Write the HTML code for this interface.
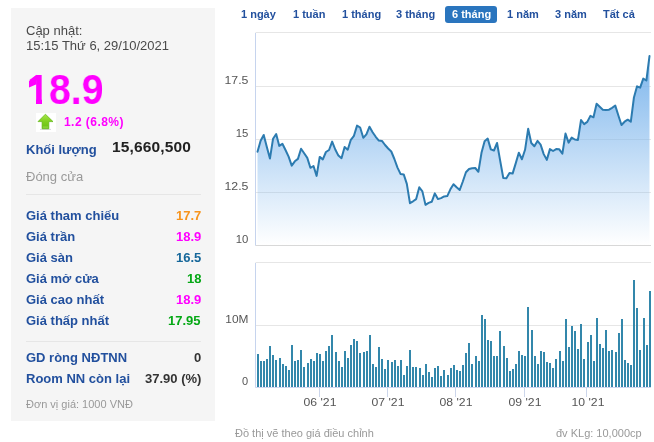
<!DOCTYPE html>
<html><head><meta charset="utf-8"><style>
html,body{margin:0;padding:0;background:#fff;width:654px;height:442px;overflow:hidden;position:relative}
body{font-family:"Liberation Sans",sans-serif}
.panel{position:absolute;left:11px;top:8px;width:204px;height:413px;background:#f5f5f5}
.sep{position:absolute;left:26px;width:175px;height:1px;background:#e6e6e6}
.arrow{position:absolute;left:36px;top:113px;width:20px;height:19px;background:#fff}
.t{position:absolute;line-height:1;white-space:nowrap;will-change:transform}
.chart{position:absolute;left:0;top:0}
</style></head><body>
<div class="panel"></div>
<div class="sep" style="top:194px"></div>
<div class="sep" style="top:341px"></div>
<div class="arrow"><svg width="20" height="19" viewBox="0 0 20 19"><defs><linearGradient id="ga" x1="0" y1="0" x2="0" y2="1"><stop offset="0" stop-color="#a8e64a"/><stop offset="0.5" stop-color="#80d020"/><stop offset="1" stop-color="#66c014"/></linearGradient></defs><rect x="4" y="15.9" width="11" height="1.1" fill="#dcd9e2"/><path d="M9.4 1.2 L17 8.6 L12.8 8.6 L12.8 15.8 L6.1 15.8 L6.1 8.6 L2 8.6 Z" fill="url(#ga)" stroke="#5fb512" stroke-width="0.7" stroke-linejoin="round"/><rect x="6.8" y="13.6" width="5.3" height="1" fill="#a6e060" opacity="0.8"/></svg></div>
<svg class="chart" width="654" height="442" viewBox="0 0 654 442">
<defs>
<linearGradient id="g" gradientUnits="userSpaceOnUse" x1="0" y1="56" x2="0" y2="245">
<stop offset="0" stop-color="#7cb5ec" stop-opacity="1"/>
<stop offset="1" stop-color="#7cb5ec" stop-opacity="0"/>
</linearGradient>
</defs>
<rect x="445" y="6" width="52" height="17" rx="3" fill="#2a75be"/>
<g stroke="#e6e6e6" stroke-width="1" fill="none">
<line x1="255.5" y1="32.5" x2="651" y2="32.5"/>
<line x1="255.5" y1="86.5" x2="651" y2="86.5"/>
<line x1="255.5" y1="139.5" x2="651" y2="139.5"/>
<line x1="255.5" y1="192.5" x2="651" y2="192.5"/>
<line x1="255.5" y1="262.5" x2="651" y2="262.5"/>
<line x1="255.5" y1="325.5" x2="651" y2="325.5"/>
</g>
<path d="M257.50 151.70 L260.61 140.80 L263.72 135.00 L266.83 146.90 L269.94 158.60 L273.06 138.70 L276.17 134.00 L279.28 145.90 L282.39 143.80 L285.50 150.00 L288.61 156.60 L291.72 165.60 L294.83 161.30 L297.94 158.90 L301.05 148.70 L304.17 153.30 L307.28 157.90 L310.39 167.80 L313.50 166.00 L316.61 175.90 L319.72 156.90 L322.83 159.40 L325.94 152.00 L329.05 150.00 L332.16 141.60 L335.27 149.50 L338.39 155.60 L341.50 158.20 L344.61 147.00 L347.72 149.70 L350.83 139.80 L353.94 135.80 L357.05 125.60 L360.16 127.50 L363.27 137.80 L366.38 134.30 L369.50 126.70 L372.61 132.20 L375.72 136.80 L378.83 140.60 L381.94 140.90 L385.05 145.00 L388.16 148.50 L391.27 151.50 L394.38 159.00 L397.50 167.60 L400.61 174.10 L403.72 174.40 L406.83 183.90 L409.94 203.20 L413.05 201.30 L416.16 199.10 L419.27 187.30 L422.38 191.40 L425.49 204.90 L428.61 202.90 L431.72 201.80 L434.83 193.40 L437.94 199.10 L441.05 198.10 L444.16 196.40 L447.27 196.10 L450.38 189.30 L453.49 184.20 L456.60 187.30 L459.72 190.00 L462.83 181.50 L465.94 172.30 L469.05 169.00 L472.16 168.30 L475.27 168.00 L478.38 171.80 L481.49 152.80 L484.60 141.30 L487.71 138.60 L490.83 149.40 L493.94 150.50 L497.05 143.00 L500.16 160.70 L503.27 178.00 L506.38 178.30 L509.49 172.90 L512.60 173.60 L515.71 163.40 L518.82 152.80 L521.93 159.30 L525.05 149.80 L528.16 128.80 L531.27 143.00 L534.38 146.30 L537.49 140.90 L540.60 144.60 L543.71 154.10 L546.82 159.90 L549.93 149.10 L553.05 151.00 L556.16 149.10 L559.27 149.30 L562.38 153.70 L565.49 133.60 L568.60 142.60 L571.71 137.60 L574.82 139.50 L577.93 139.90 L581.04 120.00 L584.15 124.10 L587.27 121.90 L590.38 115.90 L593.49 117.30 L596.60 103.80 L599.71 106.70 L602.82 109.70 L605.93 110.10 L609.04 109.70 L612.15 107.80 L615.27 105.60 L618.38 115.50 L621.49 125.00 L624.60 121.70 L627.71 119.70 L630.82 121.70 L633.93 97.50 L637.04 86.30 L640.15 87.60 L643.26 78.60 L646.38 80.50 L649.49 56.10 L649.49 245 L257.50 245 Z" fill="url(#g)"/>
<line x1="255.5" y1="245.5" x2="651" y2="245.5" stroke="#d8d8d8"/>
<line x1="255.5" y1="387.5" x2="651" y2="387.5" stroke="#d0d6f0"/>
<g stroke="#c6d4ee"><line x1="255.5" y1="33" x2="255.5" y2="245.5"/><line x1="255.5" y1="263" x2="255.5" y2="387.5"/></g>
<g stroke="#ccd6eb">
<line x1="319.5" y1="387.5" x2="319.5" y2="397"/>
<line x1="387.5" y1="387.5" x2="387.5" y2="397"/>
<line x1="455.5" y1="387.5" x2="455.5" y2="397"/>
<line x1="524.5" y1="387.5" x2="524.5" y2="397"/>
<line x1="586.5" y1="387.5" x2="586.5" y2="397"/>
</g>
<path d="M257.50 151.70 L260.61 140.80 L263.72 135.00 L266.83 146.90 L269.94 158.60 L273.06 138.70 L276.17 134.00 L279.28 145.90 L282.39 143.80 L285.50 150.00 L288.61 156.60 L291.72 165.60 L294.83 161.30 L297.94 158.90 L301.05 148.70 L304.17 153.30 L307.28 157.90 L310.39 167.80 L313.50 166.00 L316.61 175.90 L319.72 156.90 L322.83 159.40 L325.94 152.00 L329.05 150.00 L332.16 141.60 L335.27 149.50 L338.39 155.60 L341.50 158.20 L344.61 147.00 L347.72 149.70 L350.83 139.80 L353.94 135.80 L357.05 125.60 L360.16 127.50 L363.27 137.80 L366.38 134.30 L369.50 126.70 L372.61 132.20 L375.72 136.80 L378.83 140.60 L381.94 140.90 L385.05 145.00 L388.16 148.50 L391.27 151.50 L394.38 159.00 L397.50 167.60 L400.61 174.10 L403.72 174.40 L406.83 183.90 L409.94 203.20 L413.05 201.30 L416.16 199.10 L419.27 187.30 L422.38 191.40 L425.49 204.90 L428.61 202.90 L431.72 201.80 L434.83 193.40 L437.94 199.10 L441.05 198.10 L444.16 196.40 L447.27 196.10 L450.38 189.30 L453.49 184.20 L456.60 187.30 L459.72 190.00 L462.83 181.50 L465.94 172.30 L469.05 169.00 L472.16 168.30 L475.27 168.00 L478.38 171.80 L481.49 152.80 L484.60 141.30 L487.71 138.60 L490.83 149.40 L493.94 150.50 L497.05 143.00 L500.16 160.70 L503.27 178.00 L506.38 178.30 L509.49 172.90 L512.60 173.60 L515.71 163.40 L518.82 152.80 L521.93 159.30 L525.05 149.80 L528.16 128.80 L531.27 143.00 L534.38 146.30 L537.49 140.90 L540.60 144.60 L543.71 154.10 L546.82 159.90 L549.93 149.10 L553.05 151.00 L556.16 149.10 L559.27 149.30 L562.38 153.70 L565.49 133.60 L568.60 142.60 L571.71 137.60 L574.82 139.50 L577.93 139.90 L581.04 120.00 L584.15 124.10 L587.27 121.90 L590.38 115.90 L593.49 117.30 L596.60 103.80 L599.71 106.70 L602.82 109.70 L605.93 110.10 L609.04 109.70 L612.15 107.80 L615.27 105.60 L618.38 115.50 L621.49 125.00 L624.60 121.70 L627.71 119.70 L630.82 121.70 L633.93 97.50 L637.04 86.30 L640.15 87.60 L643.26 78.60 L646.38 80.50 L649.49 56.10" fill="none" stroke="#2c7bb0" stroke-width="2" stroke-linejoin="round" stroke-linecap="round"/>
<g fill="#3387ab"><rect x="257" y="354" width="2" height="33"/><rect x="260" y="361" width="2" height="26"/><rect x="263" y="361" width="2" height="26"/><rect x="266" y="359" width="2" height="28"/><rect x="269" y="346" width="2" height="41"/><rect x="272" y="355" width="2" height="32"/><rect x="275" y="360" width="2" height="27"/><rect x="279" y="358" width="2" height="29"/><rect x="282" y="364" width="2" height="23"/><rect x="285" y="366" width="2" height="21"/><rect x="288" y="370" width="2" height="17"/><rect x="291" y="345" width="2" height="42"/><rect x="294" y="361" width="2" height="26"/><rect x="297" y="360" width="2" height="27"/><rect x="300" y="350" width="2" height="37"/><rect x="303" y="367" width="2" height="20"/><rect x="307" y="363" width="2" height="24"/><rect x="310" y="359" width="2" height="28"/><rect x="313" y="361" width="2" height="26"/><rect x="316" y="353" width="2" height="34"/><rect x="319" y="354" width="2" height="33"/><rect x="322" y="361" width="2" height="26"/><rect x="325" y="351" width="2" height="36"/><rect x="328" y="346" width="2" height="41"/><rect x="331" y="335" width="2" height="52"/><rect x="335" y="352" width="2" height="35"/><rect x="338" y="361" width="2" height="26"/><rect x="341" y="367" width="2" height="20"/><rect x="344" y="351" width="2" height="36"/><rect x="347" y="358" width="2" height="29"/><rect x="350" y="345" width="2" height="42"/><rect x="353" y="339" width="2" height="48"/><rect x="356" y="341" width="2" height="46"/><rect x="359" y="353" width="2" height="34"/><rect x="363" y="352" width="2" height="35"/><rect x="366" y="351" width="2" height="36"/><rect x="369" y="335" width="2" height="52"/><rect x="372" y="364" width="2" height="23"/><rect x="375" y="367" width="2" height="20"/><rect x="378" y="347" width="2" height="40"/><rect x="381" y="359" width="2" height="28"/><rect x="384" y="369" width="2" height="18"/><rect x="387" y="360" width="2" height="27"/><rect x="391" y="362" width="2" height="25"/><rect x="394" y="360" width="2" height="27"/><rect x="397" y="366" width="2" height="21"/><rect x="400" y="360" width="2" height="27"/><rect x="403" y="375" width="2" height="12"/><rect x="406" y="366" width="2" height="21"/><rect x="409" y="350" width="2" height="37"/><rect x="412" y="367" width="2" height="20"/><rect x="415" y="367" width="2" height="20"/><rect x="419" y="368" width="2" height="19"/><rect x="422" y="375" width="2" height="12"/><rect x="425" y="364" width="2" height="23"/><rect x="428" y="372" width="2" height="15"/><rect x="431" y="377" width="2" height="10"/><rect x="434" y="368" width="2" height="19"/><rect x="437" y="366" width="2" height="21"/><rect x="440" y="376" width="2" height="11"/><rect x="443" y="370" width="2" height="17"/><rect x="447" y="375" width="2" height="12"/><rect x="450" y="368" width="2" height="19"/><rect x="453" y="365" width="2" height="22"/><rect x="456" y="370" width="2" height="17"/><rect x="459" y="371" width="2" height="16"/><rect x="462" y="365" width="2" height="22"/><rect x="465" y="353" width="2" height="34"/><rect x="468" y="343" width="2" height="44"/><rect x="471" y="364" width="2" height="23"/><rect x="475" y="356" width="2" height="31"/><rect x="478" y="361" width="2" height="26"/><rect x="481" y="315" width="2" height="72"/><rect x="484" y="319" width="2" height="68"/><rect x="487" y="340" width="2" height="47"/><rect x="490" y="341" width="2" height="46"/><rect x="493" y="356" width="2" height="31"/><rect x="496" y="356" width="2" height="31"/><rect x="499" y="331" width="2" height="56"/><rect x="503" y="346" width="2" height="41"/><rect x="506" y="358" width="2" height="29"/><rect x="509" y="371" width="2" height="16"/><rect x="512" y="369" width="2" height="18"/><rect x="515" y="364" width="2" height="23"/><rect x="518" y="351" width="2" height="36"/><rect x="521" y="355" width="2" height="32"/><rect x="524" y="356" width="2" height="31"/><rect x="527" y="307" width="2" height="80"/><rect x="531" y="330" width="2" height="57"/><rect x="534" y="356" width="2" height="31"/><rect x="537" y="364" width="2" height="23"/><rect x="540" y="351" width="2" height="36"/><rect x="543" y="352" width="2" height="35"/><rect x="546" y="362" width="2" height="25"/><rect x="549" y="363" width="2" height="24"/><rect x="552" y="368" width="2" height="19"/><rect x="555" y="359" width="2" height="28"/><rect x="559" y="351" width="2" height="36"/><rect x="562" y="361" width="2" height="26"/><rect x="565" y="319" width="2" height="68"/><rect x="568" y="347" width="2" height="40"/><rect x="571" y="326" width="2" height="61"/><rect x="574" y="331" width="2" height="56"/><rect x="577" y="349" width="2" height="38"/><rect x="580" y="324" width="2" height="63"/><rect x="583" y="359" width="2" height="28"/><rect x="587" y="342" width="2" height="45"/><rect x="590" y="335" width="2" height="52"/><rect x="593" y="361" width="2" height="26"/><rect x="596" y="318" width="2" height="69"/><rect x="599" y="344" width="2" height="43"/><rect x="602" y="348" width="2" height="39"/><rect x="605" y="330" width="2" height="57"/><rect x="608" y="351" width="2" height="36"/><rect x="611" y="350" width="2" height="37"/><rect x="615" y="352" width="2" height="35"/><rect x="618" y="333" width="2" height="54"/><rect x="621" y="319" width="2" height="68"/><rect x="624" y="360" width="2" height="27"/><rect x="627" y="363" width="2" height="24"/><rect x="630" y="365" width="2" height="22"/><rect x="633" y="280" width="2" height="107"/><rect x="636" y="308" width="2" height="79"/><rect x="639" y="350" width="2" height="37"/><rect x="643" y="318" width="2" height="69"/><rect x="646" y="345" width="2" height="42"/><rect x="649" y="291" width="2" height="96"/></g>
</svg>
<div class="t" style="left:26px;top:24.00px;font-size:13px;font-weight:normal;color:#4a4a4a;">Cập nhật:</div>
<div class="t" style="left:26px;top:38.80px;font-size:13px;font-weight:normal;color:#4a4a4a;">15:15 Thứ 6, 29/10/2021</div>
<div class="t" style="left:26.5px;top:67.70px;font-size:43px;font-weight:bold;color:#f0f;transform:scaleX(0.915);transform-origin:0 0;">18.9</div>
<div class="t" style="left:63.5px;top:116.44px;font-size:12px;font-weight:bold;color:#f0f;letter-spacing:0.45px;">1.2 (6.8%)</div>
<div class="t" style="left:26.3px;top:143.30px;font-size:13px;font-weight:bold;color:#22509e;">Khối lượng</div>
<div class="t" style="left:112.3px;top:139.28px;font-size:15.5px;font-weight:bold;color:#222;letter-spacing:0.15px;">15,660,500</div>
<div class="t" style="left:26px;top:170.20px;font-size:13px;font-weight:normal;color:#999;">Đóng cửa</div>
<div class="t" style="left:26.3px;top:208.70px;font-size:13px;font-weight:bold;color:#22509e;">Giá tham chiếu</div>
<div class="t" style="right:453px;top:208.70px;font-size:13px;font-weight:bold;color:#f7941d;">17.7</div>
<div class="t" style="left:26.3px;top:229.60px;font-size:13px;font-weight:bold;color:#22509e;">Giá trần</div>
<div class="t" style="right:453px;top:229.60px;font-size:13px;font-weight:bold;color:#f0f;">18.9</div>
<div class="t" style="left:26.3px;top:250.80px;font-size:13px;font-weight:bold;color:#22509e;">Giá sàn</div>
<div class="t" style="right:453px;top:250.80px;font-size:13px;font-weight:bold;color:#16679a;">16.5</div>
<div class="t" style="left:26.3px;top:271.60px;font-size:13px;font-weight:bold;color:#22509e;">Giá mở cửa</div>
<div class="t" style="right:453px;top:271.60px;font-size:13px;font-weight:bold;color:#05a815;">18</div>
<div class="t" style="left:26.3px;top:292.80px;font-size:13px;font-weight:bold;color:#22509e;">Giá cao nhất</div>
<div class="t" style="right:453px;top:292.80px;font-size:13px;font-weight:bold;color:#f0f;">18.9</div>
<div class="t" style="left:26.3px;top:314.10px;font-size:13px;font-weight:bold;color:#22509e;">Giá thấp nhất</div>
<div class="t" style="right:453px;top:314.10px;font-size:13px;font-weight:bold;color:#05a815;">17.95</div>
<div class="t" style="left:26.3px;top:351.10px;font-size:13px;font-weight:bold;color:#22509e;">GD ròng NĐTNN</div>
<div class="t" style="right:453px;top:351.10px;font-size:13px;font-weight:bold;color:#333;">0</div>
<div class="t" style="left:26.3px;top:371.60px;font-size:13px;font-weight:bold;color:#22509e;">Room NN còn lại</div>
<div class="t" style="right:453px;top:371.60px;font-size:13px;font-weight:bold;color:#333;">37.90 (%)</div>
<div class="t" style="left:26px;top:399.39px;font-size:11px;font-weight:normal;color:#999;">Đơn vị giá: 1000 VNĐ</div>
<div class="t" style="left:241.2px;top:9.19px;font-size:11px;font-weight:bold;color:#22509e;">1 ngày</div>
<div class="t" style="left:292.6px;top:9.19px;font-size:11px;font-weight:bold;color:#22509e;">1 tuần</div>
<div class="t" style="left:341.5px;top:9.19px;font-size:11px;font-weight:bold;color:#22509e;">1 tháng</div>
<div class="t" style="left:396.1px;top:9.19px;font-size:11px;font-weight:bold;color:#22509e;">3 tháng</div>
<div class="t" style="left:452.1px;top:9.19px;font-size:11px;font-weight:bold;color:#fff;">6 tháng</div>
<div class="t" style="left:507.3px;top:9.19px;font-size:11px;font-weight:bold;color:#22509e;">1 năm</div>
<div class="t" style="left:555.1px;top:9.19px;font-size:11px;font-weight:bold;color:#22509e;">3 năm</div>
<div class="t" style="left:603.1px;top:9.19px;font-size:11px;font-weight:bold;color:#22509e;">Tất cả</div>
<div class="t" style="right:405.4px;top:74.79px;font-size:11px;font-weight:normal;color:#555;transform:scaleX(1.12);transform-origin:100% 0;">17.5</div>
<div class="t" style="right:405.4px;top:128.19px;font-size:11px;font-weight:normal;color:#555;transform:scaleX(1.03);transform-origin:100% 0;">15</div>
<div class="t" style="right:405.4px;top:180.99px;font-size:11px;font-weight:normal;color:#555;transform:scaleX(1.12);transform-origin:100% 0;">12.5</div>
<div class="t" style="right:405.4px;top:233.89px;font-size:11px;font-weight:normal;color:#555;transform:scaleX(1.03);transform-origin:100% 0;">10</div>
<div class="t" style="right:405.4px;top:313.69px;font-size:11px;font-weight:normal;color:#555;transform:scaleX(1.08);transform-origin:100% 0;">10M</div>
<div class="t" style="right:405.4px;top:375.99px;font-size:11px;font-weight:normal;color:#555;transform:scaleX(1.0);transform-origin:100% 0;">0</div>
<div class="t xl" style="left:289.6px;top:397.49px;font-size:11px;color:#555;width:60px;text-align:center;transform:scaleX(1.11)">06 '21</div>
<div class="t xl" style="left:358px;top:397.49px;font-size:11px;color:#555;width:60px;text-align:center;transform:scaleX(1.11)">07 '21</div>
<div class="t xl" style="left:425.8px;top:397.49px;font-size:11px;color:#555;width:60px;text-align:center;transform:scaleX(1.11)">08 '21</div>
<div class="t xl" style="left:495px;top:397.49px;font-size:11px;color:#555;width:60px;text-align:center;transform:scaleX(1.11)">09 '21</div>
<div class="t xl" style="left:557.6px;top:397.49px;font-size:11px;color:#555;width:60px;text-align:center;transform:scaleX(1.11)">10 '21</div>
<div class="t" style="left:234.5px;top:427.79px;font-size:11px;font-weight:normal;color:#999;">Đồ thị vẽ theo giá điều chỉnh</div>
<div class="t" style="right:12.5px;top:427.89px;font-size:11px;font-weight:normal;color:#999;">đv KLg: 10,000cp</div>
<svg style="position:absolute;left:0;top:0" width="60" height="110" viewBox="0 0 60 110"><path d="M36.6 74.8 L36.6 84.2 L29 87.6 L29 81.2 Z" fill="#f0f"/><rect x="28" y="99" width="8" height="5.5" fill="#f5f5f5"/><rect x="42" y="99" width="7" height="5.5" fill="#f5f5f5"/></svg>
</body></html>
